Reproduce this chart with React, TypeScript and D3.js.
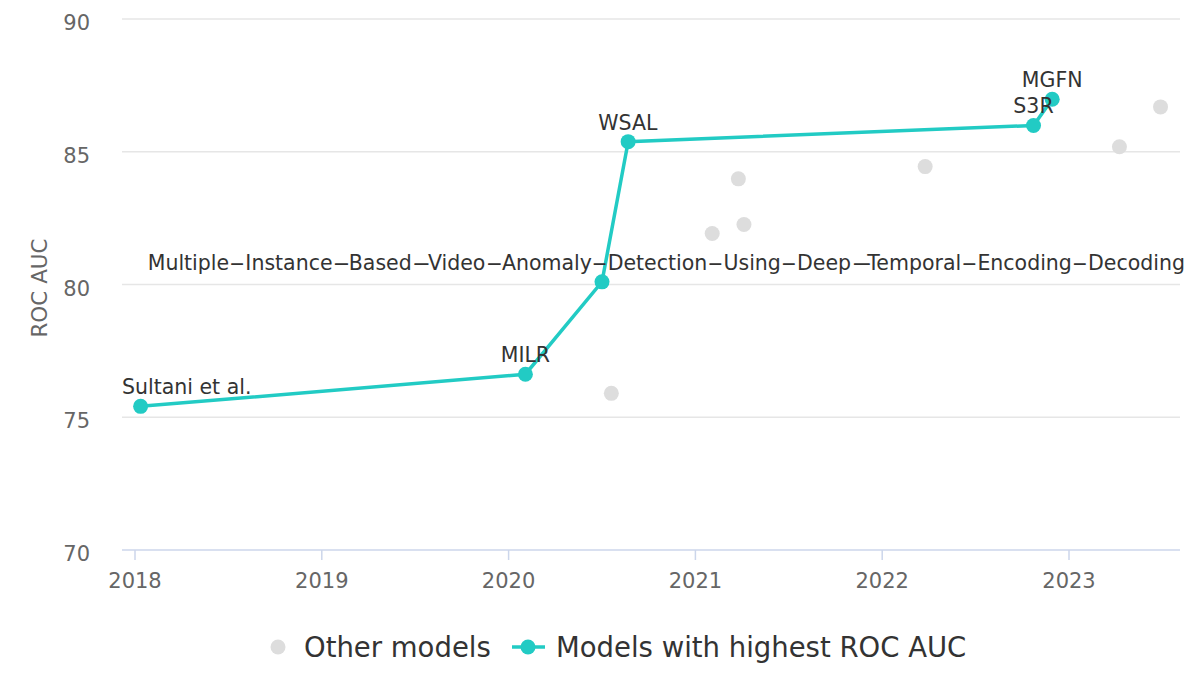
import React, { useEffect, useRef } from "react";
import * as d3 from "d3";

// Best models (frontier)
const bestNames = ["Sultani et al.", "MILR", "Multiple-Instance-Based-Video-Anomaly-Detection-Using-Deep-Temporal-Encoding-Decoding", "WSAL", "S3R", "MGFN"];
const bestDates = [2018.03, 2020.09, 2020.5, 2020.64, 2022.81, 2022.91];
const bestValues = [75.41, 76.62, 80.1, 85.38, 85.99, 86.98];

// Other models
const otherDates = [2020.55, 2021.09, 2021.23, 2021.26, 2022.23, 2023.27, 2023.49];
const otherValues = [75.9, 81.92, 83.98, 82.26, 84.44, 85.19, 86.69];

const xTicks = [2018, 2019, 2020, 2021, 2022, 2023];
const yTicks = [70, 75, 80, 85, 90];
const legendLabels = ["Other models", "Models with highest ROC AUC"];
const yTitle = "ROC AUC";

const TEAL = "#22cbc4";
const GRAY = "#dddddd";
const FONT = "'DejaVu Sans', sans-serif";

export default function App() {
  const ref = useRef<SVGSVGElement>(null);

  useEffect(() => {
    const svg = d3.select(ref.current);
    svg.selectAll("*").remove();

    const left = 122, right = 1180, top = 19, bottom = 550;
    const x = d3.scaleLinear().domain([2018, 2023]).range([135, 1069]);
    const y = d3.scaleLinear().domain([70, 90]).range([bottom, top]);

    // gridlines
    svg.append("g").selectAll("line").data(yTicks.filter((t) => t !== 70)).join("line")
      .attr("x1", left).attr("x2", right)
      .attr("y1", (d) => y(d)).attr("y2", (d) => y(d))
      .attr("stroke", "#e6e6e6").attr("stroke-width", 1.5);

    // y tick labels
    svg.append("g").selectAll("text").data(yTicks).join("text")
      .attr("x", 90).attr("y", (d) => y(d) + 11)
      .attr("text-anchor", "end").attr("font-family", FONT).attr("font-size", 21)
      .attr("fill", "#666666").text((d) => String(d));

    // x axis line
    svg.append("line").attr("x1", left).attr("x2", right).attr("y1", bottom).attr("y2", bottom)
      .attr("stroke", "#ccd6eb").attr("stroke-width", 1.5);
    svg.append("g").selectAll("line").data(xTicks).join("line")
      .attr("x1", (d) => x(d)).attr("x2", (d) => x(d))
      .attr("y1", bottom).attr("y2", bottom + 10)
      .attr("stroke", "#ccd6eb").attr("stroke-width", 1.5);
    svg.append("g").selectAll("text").data(xTicks).join("text")
      .attr("x", (d) => x(d)).attr("y", 588)
      .attr("text-anchor", "middle").attr("font-family", FONT).attr("font-size", 21)
      .attr("fill", "#666666").text((d) => String(d));

    // y title
    svg.append("text")
      .attr("transform", `translate(47,288) rotate(-90)`)
      .attr("text-anchor", "middle").attr("font-family", FONT).attr("font-size", 21.5)
      .attr("fill", "#666666").text(yTitle);

    // other models
    svg.append("g").selectAll("circle").data(otherDates.map((d, i) => [d, otherValues[i]])).join("circle")
      .attr("cx", (d) => x(d[0])).attr("cy", (d) => y(d[1])).attr("r", 7.5).attr("fill", GRAY);

    // best line
    const best = bestDates.map((d, i) => ({ date: d, value: bestValues[i], name: bestNames[i] }));
    const line = d3.line<{ date: number; value: number }>().x((d) => x(d.date)).y((d) => y(d.value));
    svg.append("path").attr("d", line(best)).attr("fill", "none").attr("stroke", TEAL).attr("stroke-width", 3.5);
    svg.append("g").selectAll("circle").data(best).join("circle")
      .attr("cx", (d) => x(d.date)).attr("cy", (d) => y(d.value)).attr("r", 7.5).attr("fill", TEAL);

    // labels (hyphens drawn wide, as in the reference rendering)
    const lg = svg.append("g");
    best.forEach((d) => {
      const t = lg.append("text")
        .attr("x", x(d.date)).attr("y", y(d.value) - 12)
        .attr("text-anchor", "start").attr("font-family", FONT).attr("font-size", 20.5)
        .attr("fill", "#333333");
      const parts = d.name.split("-");
      parts.forEach((p, i) => {
        if (i > 0) t.append("tspan").attr("textLength", 16.2).attr("lengthAdjust", "spacingAndGlyphs").text("-");
        t.append("tspan").text(p);
      });
      const node = t.node() as SVGTextElement;
      const w = node.getBBox().width;
      let start = x(d.date) - w / 2;
      if (w > 900) start = 1185 - w;
      else if (start < left) start = left;
      else if (start + w > 1186) start = 1186 - w;
      t.attr("x", start);
    });

    // legend
    svg.append("circle").attr("cx", 278).attr("cy", 647).attr("r", 7.5).attr("fill", GRAY);
    svg.append("text").attr("x", 304).attr("y", 657).attr("font-family", FONT).attr("font-size", 27.5)
      .attr("fill", "#333333").text(legendLabels[0]);
    svg.append("line").attr("x1", 512).attr("x2", 545).attr("y1", 647).attr("y2", 647)
      .attr("stroke", TEAL).attr("stroke-width", 3.5);
    svg.append("circle").attr("cx", 528).attr("cy", 647).attr("r", 7.5).attr("fill", TEAL);
    svg.append("text").attr("x", 556).attr("y", 657).attr("font-family", FONT).attr("font-size", 27.5)
      .attr("fill", "#333333").text(legendLabels[1]);
  }, []);

  return (
    <svg ref={ref} width={1200} height={700}
      style={{ position: "absolute", left: 0, top: 0, background: "#ffffff" }} />
  );
}
